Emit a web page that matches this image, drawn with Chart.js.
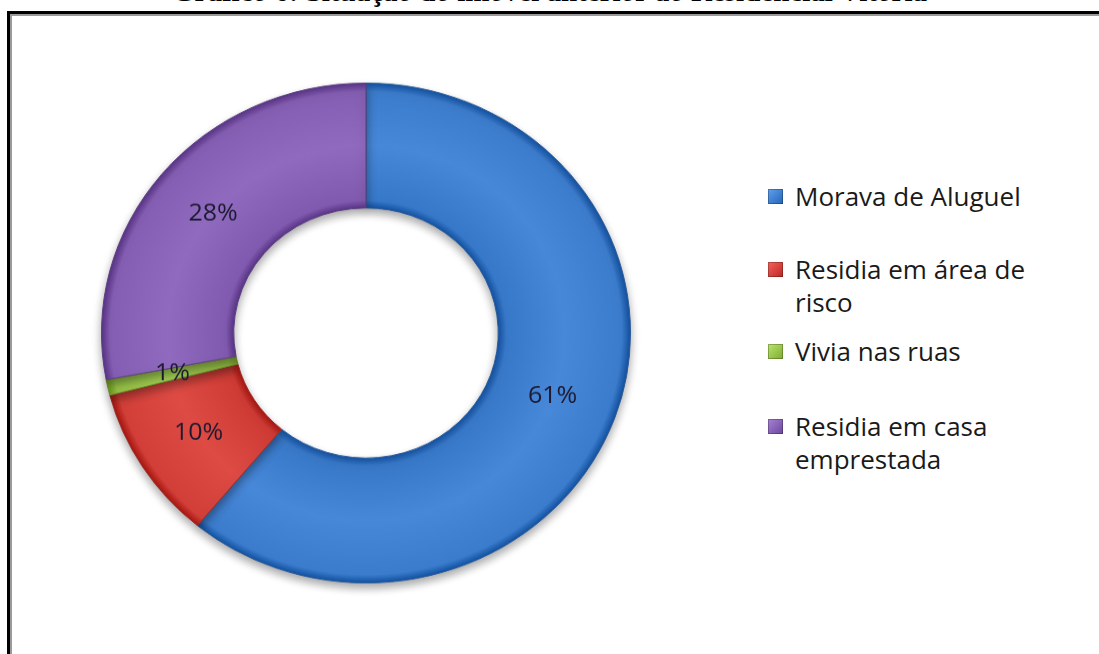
<!DOCTYPE html>
<html lang="pt">
<head>
<meta charset="utf-8">
<title>Gráfico 6</title>
<script src="https://cdn.jsdelivr.net/npm/chart.js@4.4.1/dist/chart.umd.min.js"></script>
<style>
    html, body { margin: 0; padding: 0; background: #fff; overflow: hidden; }
    body { width: 1099px; height: 654px; position: relative; }
    #title {
        position: absolute; left: 0; width: 1099px; top: -25px;
        text-align: center; font: bold 29px "Liberation Serif", "Times New Roman", serif;
        color: #000; white-space: nowrap;
    }
    #frame {
        position: absolute; left: 7px; top: 11px; width: 1120px; height: 700px;
        border-top: 3px solid #000; border-left: 3px solid #000;
    }
    #frame .inner {
        position: absolute; left: 0; top: 0; right: 0; bottom: 0;
        border-top: 2px solid #9a9a9a; border-left: 2px solid #9a9a9a;
    }
    /* squash a little vertically, the original is drawn in slight perspective */
    #chartBox {
        position: absolute; left: 86px; top: 50px; width: 560px; height: 566px;
        transform: scaleY(0.945); transform-origin: 50% 50%;
    }
    #legend {
        position: absolute; left: 768px; top: 0; width: 320px;
        font-family: "Open Sans", "Liberation Sans", sans-serif; font-size: 26px; color: #1a1a1a;
    }
    #legend .item { position: absolute; left: 0; white-space: nowrap; }
    #legend .box {
        position: absolute; left: 0; width: 15px; height: 15px;
        box-shadow: inset 0 0 0 1px rgba(0,0,0,0.25);
    }
    #legend .txt { position: absolute; left: 27px; line-height: 33px; }
</style>
</head>
<body>

<div id="title">Gráfico 6: Situação do imóvel anterior ao Residencial Vitória</div>
<div id="frame"><div class="inner"></div></div>

<div id="chartBox"><canvas id="chart"></canvas></div>
<div id="legend"></div>

<script>
// data
var categories = ['Morava de Aluguel', 'Residia em área de risco', 'Vivia nas ruas', 'Residia em casa emprestada'];
var legendLines = [['Morava de Aluguel'], ['Residia em área de', 'risco'], ['Vivia nas ruas'], ['Residia em casa', 'emprestada']];
var percentages = [61, 10, 1, 28];
var sliceColors = ['#4282d2', '#d8453f', '#9cc84d', '#8a64b8'];
var edgeColors = ['#2c5a99', '#9c2c28', '#6b8c2c', '#5b3f80'];
var legendTops = [180, 253, 335, 410];

function shade(hex, amt) {
    var n = parseInt(hex.slice(1), 16);
    var r = (n >> 16) & 255, g = (n >> 8) & 255, b = n & 255;
    var f = function(c) { return Math.max(0, Math.min(255, Math.round(c + amt))); };
    return 'rgb(' + f(r) + ',' + f(g) + ',' + f(b) + ')';
}

// bevel-ish radial gradient for each slice
var sliceFill = function(context) {
    var chart = context.chart;
    var area = chart.chartArea;
    var base = sliceColors[context.dataIndex];
    if (!area) return base;
    var cx = (area.left + area.right) / 2, cy = (area.top + area.bottom) / 2;
    var outer = Math.min(area.right - area.left, area.bottom - area.top) / 2;
    var inner = outer * 0.5;
    var grad = chart.ctx.createRadialGradient(cx, cy, inner, cx, cy, outer);
    grad.addColorStop(0, shade(base, -45));
    grad.addColorStop(0.06, shade(base, -10));
    grad.addColorStop(0.5, shade(base, 6));
    grad.addColorStop(0.93, shade(base, -6));
    grad.addColorStop(1, shade(base, -50));
    return grad;
};

var shadowPlugin = {
    id: 'shadow',
    beforeDatasetsDraw: function(chart) {
        var ctx = chart.ctx;
        ctx.save();
        ctx.shadowColor = 'rgba(0,0,0,0.35)';
        ctx.shadowBlur = 10;
        ctx.shadowOffsetX = 0;
        ctx.shadowOffsetY = 5;
    },
    afterDatasetsDraw: function(chart) {
        chart.ctx.restore();
    }
};

var labelPlugin = {
    id: 'sliceLabels',
    afterDraw: function(chart) {
        var ctx = chart.ctx;
        var meta = chart.getDatasetMeta(0);
        ctx.save();
        ctx.font = '25px "Open Sans", "Liberation Sans", sans-serif';
        ctx.fillStyle = '#1c1a30';
        ctx.textAlign = 'center';
        ctx.textBaseline = 'middle';
        meta.data.forEach(function(arc, i) {
            var p = arc.tooltipPosition();
            ctx.fillText(percentages[i] + '%', p.x, p.y);
        });
        ctx.restore();
    }
};

var ctx = document.getElementById('chart').getContext('2d');
var myChart = new Chart(ctx, {
    type: 'doughnut',
    data: {
        labels: categories,
        datasets: [{
            data: percentages,
            backgroundColor: sliceFill,
            borderColor: edgeColors,
            borderWidth: 1
        }]
    },
    options: {
        responsive: true,
        maintainAspectRatio: false,
        animation: false,
        cutout: '50%',
        layout: { padding: { left: 15, right: 15, top: 18, bottom: 18 } },
        plugins: {
            legend: { display: false },
            tooltip: { enabled: false }
        }
    },
    plugins: [shadowPlugin, labelPlugin]
});

// legend built from the same arrays
var legendDiv = document.getElementById('legend');
categories.forEach(function(name, i) {
    var item = document.createElement('div');
    item.className = 'item';
    item.style.top = legendTops[i] + 'px';
    var box = document.createElement('div');
    box.className = 'box';
    box.style.top = '9px';
    box.style.background = 'linear-gradient(135deg,' + shade(sliceColors[i], 30) + ',' + shade(sliceColors[i], -30) + ')';
    var txt = document.createElement('div');
    txt.className = 'txt';
    txt.innerHTML = legendLines[i].join('<br>');
    item.appendChild(box);
    item.appendChild(txt);
    legendDiv.appendChild(item);
});
</script>

</body>
</html>
